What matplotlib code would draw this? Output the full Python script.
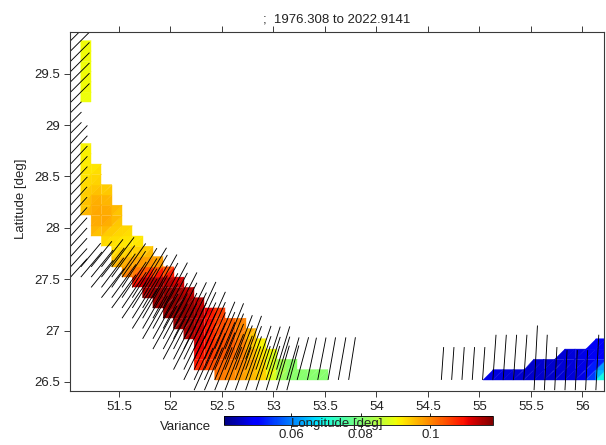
import numpy as np
import matplotlib
matplotlib.use("Agg")
import matplotlib.pyplot as plt
from matplotlib.collections import LineCollection

plt.rcParams["font.family"] = ["Liberation Sans", "DejaVu Sans"]

# ---- grid (node positions) ----
lon_first, lon_step, n_lon = 51.03, 0.1, 53
lat_first, lat_step, n_lat = 26.52, 0.1, 34

# ---- variance at grid nodes, stored by row: row index, first column, values ----
var_row = [33, 32, 31, 30, 29, 28, 27,
           23, 22, 21, 20, 19, 18, 17, 16, 15, 14, 13, 12, 11, 10,
           9, 8, 7, 6, 5, 4, 3, 2, 1, 0,
           4, 3, 2, 1, 0]
var_first = [1, 1, 1, 1, 1, 1, 1,
             1, 1, 1, 1, 1, 1, 1, 1, 2, 2, 3, 4, 4, 5,
             6, 7, 8, 9, 10, 11, 12, 12, 12, 14,
             51, 48, 45, 41, 40]
var_vals = [
    [0.0905, 0.0905], [0.0905, 0.0905], [0.0905, 0.0900], [0.0900, 0.0905],
    [0.0905, 0.0905], [0.0905, 0.0900], [0.0900, 0.0905],
    [0.0905, 0.091],
    [0.091, 0.092],
    [0.091, 0.092, 0.092],
    [0.092, 0.093, 0.093],
    [0.092, 0.094, 0.094, 0.093],
    [0.093, 0.096, 0.096, 0.095],
    [0.093, 0.097, 0.097, 0.096, 0.094],
    [0.094, 0.097, 0.098, 0.097, 0.094],
    [0.096, 0.097, 0.096, 0.094, 0.093],
    [0.095, 0.094, 0.093, 0.093, 0.092, 0.092],
    [0.093, 0.092, 0.092, 0.092, 0.093, 0.093],
    [0.094, 0.095, 0.096, 0.097, 0.097, 0.096],
    [0.096, 0.098, 0.099, 0.100, 0.100, 0.099, 0.100],
    [0.099, 0.104, 0.112, 0.114, 0.114, 0.112, 0.108],
    [0.110, 0.114, 0.116, 0.116, 0.116, 0.114, 0.112],
    [0.113, 0.116, 0.117, 0.117, 0.116, 0.115, 0.112],
    [0.114, 0.116, 0.117, 0.117, 0.116, 0.113, 0.108, 0.106],
    [0.115, 0.116, 0.117, 0.116, 0.112, 0.106, 0.104, 0.102, 0.098],
    [0.115, 0.116, 0.115, 0.112, 0.106, 0.104, 0.103, 0.098, 0.093],
    [0.114, 0.114, 0.111, 0.106, 0.104, 0.103, 0.099, 0.092, 0.090],
    [0.112, 0.110, 0.106, 0.104, 0.103, 0.100, 0.092, 0.090, 0.090],
    [0.110, 0.108, 0.105, 0.103, 0.101, 0.100, 0.096, 0.091, 0.083, 0.081, 0.081],
    [0.108, 0.106, 0.103, 0.101, 0.100, 0.098, 0.095, 0.093, 0.086, 0.081,
     0.081, 0.081, 0.081, 0.081],
    [0.102, 0.100, 0.099, 0.097, 0.095, 0.093, 0.085, 0.081, 0.080, 0.080,
     0.080, 0.080],
    [0.049, 0.049],
    [0.047, 0.047, 0.048, 0.049, 0.049],
    [0.046, 0.046, 0.046, 0.047, 0.047, 0.048, 0.049, 0.049],
    [0.047, 0.047, 0.046, 0.046, 0.046, 0.046, 0.046, 0.047, 0.047, 0.048,
     0.060, 0.078],
    [0.048, 0.048, 0.047, 0.047, 0.046, 0.046, 0.046, 0.046, 0.047, 0.047,
     0.048, 0.056, 0.075],
]

# ---- principal-axis vectors: start row, first column, angle (deg), length (deg) ----
left_row = list(range(10, 34))
left_angle = [48, 48, 48, 48, 48, 48, 48, 48, 47, 47, 47, 47, 47, 47,
              45, 45, 45, 45, 45, 45, 45, 45, 45, 45]
left_length = [0.24, 0.24, 0.24, 0.24, 0.24, 0.24, 0.24, 0.24, 0.24, 0.24,
               0.24, 0.24, 0.24, 0.24, 0.15, 0.15, 0.15, 0.26, 0.26, 0.26,
               0.26, 0.26, 0.26, 0.26]

vec_row = [11, 10, 9, 8, 7, 6, 5, 4, 3, 2, 1, 0, -1, 0, 0, -1]
vec_first = [1, 1, 2, 3, 4, 5, 6, 7, 8, 9, 10, 11, 12, 23, 36, 45]
vec_angle = [
    [50, 51, 52, 53],
    [50, 51, 52, 54, 55],
    [51, 53, 55, 57, 58, 59],
    [52, 54, 56, 58, 60, 61],
    [54, 56, 58, 60, 61, 62],
    [56, 58, 60, 61, 62, 63],
    [58, 60, 61, 62, 63, 64, 65],
    [60, 61, 62, 63, 64, 65, 66],
    [61, 62, 63, 64, 65, 66, 67, 68],
    [62, 63, 64, 65, 66, 67, 68, 69, 70],
    [63, 64, 65, 66, 67, 68, 69, 70, 71, 72, 73],
    [64, 65, 66, 67, 68, 69, 70, 71, 72, 73, 74, 75],
    [66, 67, 68, 69, 70, 71, 72, 73, 74, 75],
    [78, 79, 80, 80, 81],
    [86, 86, 86, 86, 86, 86, 86, 86, 86],
    [87, 87, 87, 87, 87, 87, 87],
]
vec_length = [
    [0.30, 0.32, 0.34, 0.36],
    [0.32, 0.34, 0.36, 0.38, 0.40],
    [0.34, 0.36, 0.40, 0.42, 0.45, 0.45],
    [0.36, 0.40, 0.42, 0.45, 0.48, 0.48],
    [0.40, 0.42, 0.45, 0.48, 0.50, 0.50],
    [0.42, 0.45, 0.48, 0.50, 0.50, 0.50],
    [0.45, 0.48, 0.50, 0.50, 0.50, 0.50, 0.50],
    [0.48, 0.50, 0.50, 0.50, 0.50, 0.50, 0.50],
    [0.48, 0.50, 0.50, 0.50, 0.50, 0.50, 0.50, 0.48],
    [0.48, 0.50, 0.50, 0.50, 0.50, 0.50, 0.48, 0.46, 0.45],
    [0.48, 0.50, 0.50, 0.50, 0.50, 0.48, 0.46, 0.45, 0.45, 0.44, 0.44],
    [0.48, 0.50, 0.50, 0.50, 0.48, 0.46, 0.45, 0.45, 0.44, 0.44, 0.43, 0.43],
    [0.45, 0.45, 0.45, 0.45, 0.45, 0.45, 0.45, 0.45, 0.45, 0.45],
    [0.42, 0.42, 0.42, 0.42, 0.42],
    [0.32, 0.32, 0.32, 0.32, 0.32, 0.44, 0.44, 0.44, 0.44],
    [0.63, 0.54, 0.42, 0.39, 0.39, 0.39, 0.54],
]

title_text = ";  1976.308 to 2022.9141"
x_ticks = [51.5, 52, 52.5, 53, 53.5, 54, 54.5, 55, 55.5, 56]
y_ticks = [26.5, 27, 27.5, 28, 28.5, 29, 29.5]
cbar_ticks = [0.06, 0.08, 0.1]
clim = (0.0407, 0.118)

# ---- build node field ----
lon_nodes = lon_first + lon_step * np.arange(n_lon)
lat_nodes = lat_first + lat_step * np.arange(n_lat)
V = np.full((n_lat, n_lon), np.nan)
for j, i0, vals in zip(var_row, var_first, var_vals):
    V[j, i0:i0 + len(vals)] = vals

LON, LAT = np.meshgrid(lon_nodes, lat_nodes)
xs, ys, vs = LON.ravel(), LAT.ravel(), V.ravel()


def node(i, j):
    return j * n_lon + i


tris = []
for j in range(n_lat - 1):
    for i in range(n_lon - 1):
        ll, lr, ur, ul = node(i, j), node(i + 1, j), node(i + 1, j + 1), node(i, j + 1)
        for t in ((ll, lr, ur), (ll, ur, ul)):
            if not np.isnan(vs[list(t)]).any():
                tris.append(t)
tris = np.array(tris)
face_vals = vs[tris].mean(axis=1)

# ---- figure ----
W, H = 606, 445
fig = plt.figure(figsize=(W / 100, H / 100), dpi=100)
ax = fig.add_axes([69.5 / W, 1 - 391 / H, (604 - 69.5) / W, (391 - 32) / H])

tpc = ax.tripcolor(xs, ys, tris, facecolors=face_vals, cmap="jet",
                   vmin=clim[0], vmax=clim[1], edgecolors="face", linewidth=0.3)

segs = []
for j, ang, ln in zip(left_row, left_angle, left_length):
    x0, y0 = lon_first, lat_first + lat_step * j
    a = np.deg2rad(ang)
    segs.append([(x0, y0), (x0 + ln * np.cos(a), y0 + ln * np.sin(a))])
for j, i0, angs, lens in zip(vec_row, vec_first, vec_angle, vec_length):
    for k, (ang, ln) in enumerate(zip(angs, lens)):
        x0 = lon_first + lon_step * (i0 + k)
        y0 = lat_first + lat_step * j
        a = np.deg2rad(ang)
        segs.append([(x0, y0), (x0 + ln * np.cos(a), y0 + ln * np.sin(a))])
ax.add_collection(LineCollection(segs, colors="black", linewidths=0.65))

ax.set_xlim(51.02, 56.209)
ax.set_ylim(26.412, 29.905)
ax.set_xticks(x_ticks)
ax.set_xticklabels([f"{t:g}" for t in x_ticks])
ax.set_yticks(y_ticks)
ax.set_yticklabels([f"{t:g}" for t in y_ticks])
ax.tick_params(direction="out", length=4, width=0.7, colors="#3a3a3a",
               labelsize=9.5, labelcolor="#222222", top=True, pad=3)
for s in ax.spines.values():
    s.set_color("#3a3a3a")
    s.set_linewidth(0.8)

fig.text(337 / W, 1 - 19 / H, title_text, ha="center", va="center",
         fontsize=9.5, color="#222222")
fig.text(21 / W, 1 - 199 / H, "Latitude [deg]", rotation=90, ha="center",
         va="center", fontsize=9.5, color="#222222")
fig.text(186 / W, 1 - 427 / H, "Variance", ha="center", va="center",
         fontsize=9.5, color="#222222")

cax = fig.add_axes([224 / W, 1 - 425 / H, 269 / W, 9 / H])
cb = fig.colorbar(tpc, cax=cax, orientation="horizontal", ticks=cbar_ticks)
cb.ax.set_xticklabels([f"{t:g}" for t in cbar_ticks])
cb.outline.set_linewidth(0.6)
cb.ax.tick_params(direction="out", length=2, width=0.6, labelsize=9.5,
                  labelcolor="#222222", top=True, pad=1)
fig.text(337 / W, 1 - 424 / H, "Longitude [deg]", ha="center", va="center",
         fontsize=9.5, color="#222222")

fig.savefig("out.png", dpi=100)
